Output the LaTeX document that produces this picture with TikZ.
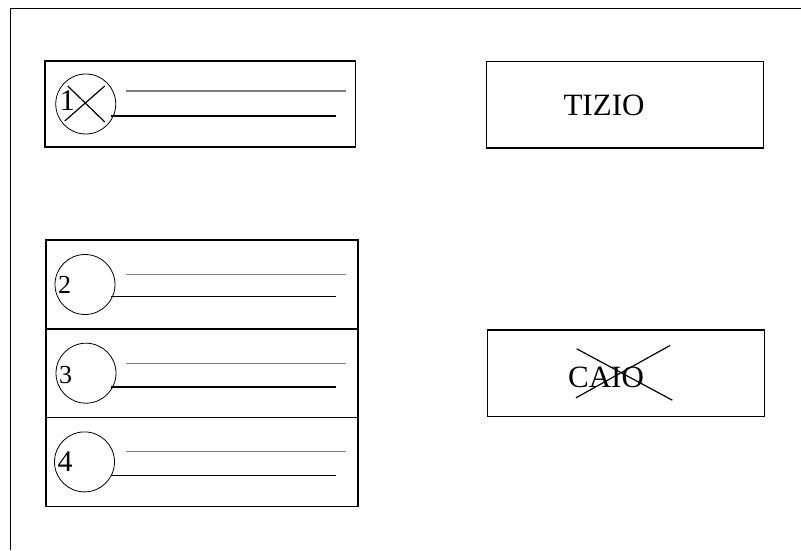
\documentclass[tikz,border=0pt]{standalone}
\usepackage{fontspec}
\setmainfont{Liberation Serif}
\usetikzlibrary{shapes,positioning}
\tikzstyle{entry}=[draw,
rectangle,
line width=1.5pt,
minimum width=312pt,
minimum height=88.7pt,
outer sep=0pt,
]
\tikzstyle{namebox}=[draw,
rectangle,
line width=1.5pt,
minimum width=277pt,
minimum height=86.5pt,
outer sep=0pt,
]
\tikzstyle{ball}=[draw,
circle,
line width=0.8pt,
minimum size=60pt,
inner sep=0pt,
outer sep=0pt,
]
\tikzstyle{num}=[anchor=west,
inner sep=4pt,
]
\tikzstyle{grayline}=[gray, line width=1.1pt]
\tikzstyle{blackline}=[black, line width=1.8pt]
\tikzstyle{strike}=[line width=1.2pt]

\begin{document}
\begin{tikzpicture}[x=1pt, y=1pt, font=\fontsize{31}{34}\selectfont]
        \useasboundingbox (0,0) rectangle (801,550);
        \draw[line width=1.6pt] (801,541.5) -- (10.5,541.5) -- (10.5,0);

        % left column
        \node[entry, minimum width=310.5pt, minimum height=86pt] (slot1) at (200,446) {};
        \node[entry] (slot2) at (202,265.5) {};
        \node[entry, below=0pt of slot2] (slot3) {};
        \node[entry, below=0pt of slot3] (slot4) {};

        \node[ball, right=11pt of slot1.west] (ball1) {};
        \node[ball, right=9pt of slot2.west] (ball2) {};
        \node[ball, right=10pt of slot3.west] (ball3) {};
        \node[ball, right=8.5pt of slot4.west] (ball4) {};

        \node[num, yshift=3pt, font=\fontsize{30}{32}\selectfont] (num1) at (ball1.west) {1};
        \node[num, inner sep=3pt, font=\fontsize{26}{28}\selectfont] (num2) at (ball2.west) {2};
        \node[num, inner sep=3pt, yshift=-2pt, font=\fontsize{26}{28}\selectfont] (num3) at (ball3.west) {3};
        \node[num, inner sep=3pt, font=\fontsize{30}{32}\selectfont] (num4) at (ball4.west) {4};

        \draw[strike] ([shift={(-18pt,18pt)}]ball1.center) -- ([shift={(19pt,-18pt)}]ball1.center);
        \draw[strike] ([shift={(-21pt,-17pt)}]ball1.center) -- ([shift={(19pt,18pt)}]ball1.center);

        \draw[grayline] ([shift={(81.5pt,13pt)}]slot1.west) -- ([shift={(301.5pt,13pt)}]slot1.west);
        \draw[blackline] ([shift={(66.5pt,-12pt)}]slot1.west) -- ([shift={(291.5pt,-12pt)}]slot1.west);
        \draw[grayline] ([shift={(80pt,10pt)}]slot2.west) -- ([shift={(300pt,10pt)}]slot2.west);
        \draw[blackline] ([shift={(65pt,-12pt)}]slot2.west) -- ([shift={(290pt,-12pt)}]slot2.west);
        \draw[grayline] ([shift={(80pt,10pt)}]slot3.west) -- ([shift={(300pt,10pt)}]slot3.west);
        \draw[blackline] ([shift={(65pt,-13.5pt)}]slot3.west) -- ([shift={(290pt,-13.5pt)}]slot3.west);
        \draw[grayline] ([shift={(80pt,10.5pt)}]slot4.west) -- ([shift={(300pt,10.5pt)}]slot4.west);
        \draw[blackline] ([shift={(65pt,-13.5pt)}]slot4.west) -- ([shift={(290pt,-13.5pt)}]slot4.west);

        % right column
        \node[namebox] (boxtizio) at (625,445.3) {};
        \node[namebox] (boxcaio) at (626,177) {};
        \node (tizio) at (604,444.5) {TIZIO};
        \node (caio) at (606,172.5) {CAIO};

        \draw[strike] ([shift={(-29.3pt,28.7pt)}]caio.center) -- ([shift={(66.3pt,-22.7pt)}]caio.center);
        \draw[strike] ([shift={(-30pt,-20.3pt)}]caio.center) -- ([shift={(64pt,32pt)}]caio.center);
    \end{tikzpicture}
\end{document}
